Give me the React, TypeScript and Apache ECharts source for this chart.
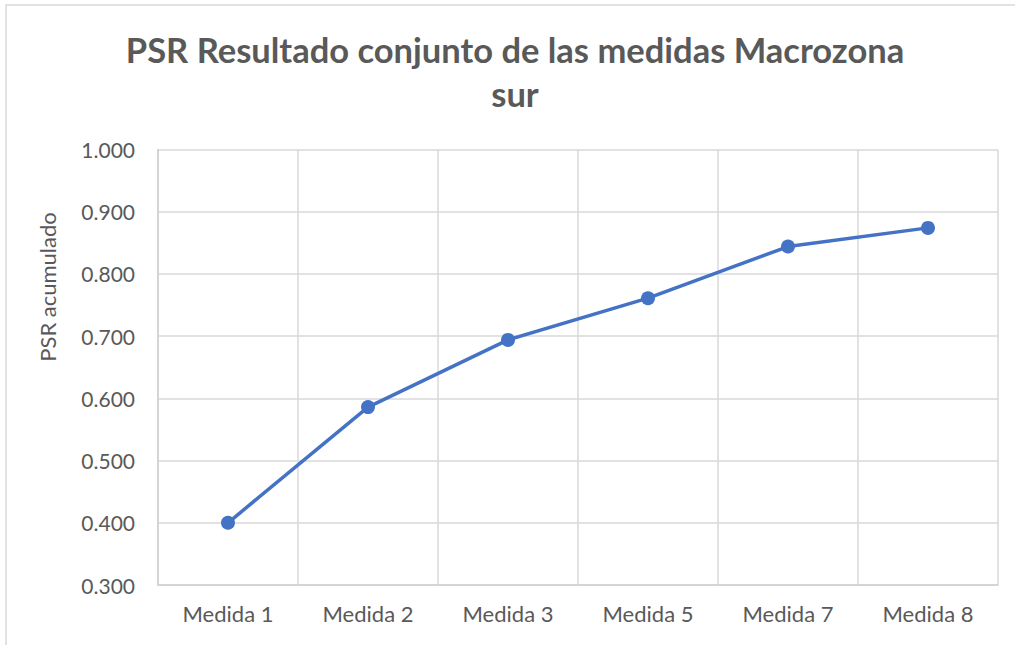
import React, { useEffect, useRef } from "react";
import * as echarts from "echarts";

const categories = ["Medida 1", "Medida 2", "Medida 3", "Medida 5", "Medida 7", "Medida 8"];
const psrValues = [0.4, 0.586, 0.694, 0.761, 0.844, 0.874];
const titleLines = ["PSR Resultado conjunto de las medidas Macrozona", "sur"];
const yAxisTitle = "PSR acumulado";

export default function App() {
  const ref = useRef<HTMLDivElement>(null);
  useEffect(() => {
    if (!ref.current) return;
    const chart = echarts.init(ref.current, null, { renderer: "svg" });
    const grey = "#595959";
    chart.setOption({
      animation: false,
      backgroundColor: "#ffffff",
      title: {
        text: titleLines.join("\n"),
        left: 515,
        top: 27,
        padding: 0,
        textAlign: "center",
        textStyle: {
          fontFamily: "Lato",
          fontWeight: "bold",
          fontSize: 34.5,
          lineHeight: 44,
          color: grey,
        },
      },
      graphic: [
        {
          type: "rect",
          shape: { x: 6, y: 5, width: 1030, height: 660 },
          style: { fill: "none", stroke: "#d9d9d9", lineWidth: 1.5 },
          silent: true,
          z: -1,
        },
        {
          type: "text",
          x: 47,
          y: 287,
          rotation: Math.PI / 2,
          style: {
            text: yAxisTitle,
            fontFamily: "Lato",
            fontSize: 22,
            fill: grey,
            textAlign: "center",
            textVerticalAlign: "middle",
          },
        },
      ],
      grid: { left: 158, right: 17, top: 149.5, bottom: 60, containLabel: false },
      xAxis: {
        type: "category",
        data: categories,
        boundaryGap: true,
        axisLine: { show: true, lineStyle: { color: "#d0d0d0", width: 1.5 } },
        axisTick: { show: false },
        axisLabel: { color: grey, fontFamily: "Lato", fontSize: 22, margin: 17 },
        splitLine: { show: true, lineStyle: { color: "#d9d9d9", width: 1.5 } },
      },
      yAxis: {
        type: "value",
        min: 0.3,
        max: 1.0,
        interval: 0.1,
        axisLine: { show: true, lineStyle: { color: "#d0d0d0", width: 1.5 } },
        axisTick: { show: false },
        axisLabel: {
          color: grey,
          fontFamily: "Lato",
          fontSize: 21,
          margin: 23,
          formatter: (v: number) => v.toFixed(3),
        },
        splitLine: { show: true, lineStyle: { color: "#d9d9d9", width: 1.5 } },
      },
      series: [
        {
          type: "line",
          data: psrValues,
          symbol: "circle",
          symbolSize: 14,
          lineStyle: { color: "#4472c4", width: 3.5 },
          itemStyle: { color: "#4472c4" },
        },
      ],
    });
    return () => chart.dispose();
  }, []);
  return (
    <div
      ref={ref}
      style={{ position: "absolute", left: 0, top: 0, width: 1015, height: 645 }}
    />
  );
}
